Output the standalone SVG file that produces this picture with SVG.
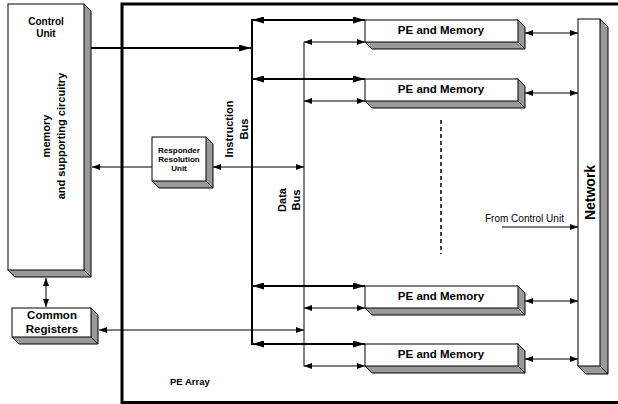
<svg xmlns="http://www.w3.org/2000/svg" width="618" height="404" viewBox="0 0 618 404">
<style>
text{font-family:"Liberation Sans",Arial,sans-serif;fill:#000}
.b{font-weight:bold}
.front{fill:#fff;stroke:#000;stroke-width:1}
.side{fill:#999;stroke:#000;stroke-width:1;stroke-linejoin:miter}
.edge{stroke:#000;stroke-width:1;fill:none}
.thin{stroke:#000;stroke-width:1;fill:none}
.thick{stroke:#000;stroke-width:2;fill:none}
.lbl{font-size:11.5px;font-weight:bold;text-anchor:middle}
</style>
<defs>
<marker id="a" viewBox="0 0 8 6" refX="8" refY="3" markerWidth="8" markerHeight="6" orient="auto-start-reverse" markerUnits="userSpaceOnUse"><path d="M0,0 L8,3 L0,6 z" fill="#000"/></marker>
<marker id="ab" viewBox="0 0 12 7" refX="12" refY="3.5" markerWidth="12" markerHeight="7" orient="auto-start-reverse" markerUnits="userSpaceOnUse"><path d="M0,0 L12,3.5 L0,7 z" fill="#000"/></marker>
</defs>
<rect width="618" height="404" fill="#fff"/>

<g id="pe-array">
<rect x="122" y="4" width="520" height="398.5" fill="none" stroke="#000" stroke-width="3"/>
<text x="170" y="385" class="b" font-size="9.5">PE Array</text>
</g>

<g id="control-unit">
<polygon class="side" points="84,4 91,11 91,277 15,277 8,270"/>
<rect class="front" x="8" y="4" width="76" height="266"/>
<line class="edge" x1="84" y1="270" x2="91" y2="277"/>
<text x="46" y="25" class="b" font-size="10" text-anchor="middle">Control</text>
<text x="46" y="37" class="b" font-size="10" text-anchor="middle">Unit</text>
<text transform="translate(50,136) rotate(-90)" class="b" font-size="11" text-anchor="middle">memory</text>
<text transform="translate(64.5,136) rotate(-90)" class="b" font-size="11" text-anchor="middle">and supporting circuitry</text>
</g>

<g id="common-registers">
<polygon class="side" points="91,308 98,315 98,344 19,344 12,337"/>
<rect class="front" x="12" y="308" width="79" height="29"/>
<line class="edge" x1="91" y1="337" x2="98" y2="344"/>
<text x="52" y="319" class="lbl">Common</text>
<text x="52" y="333" class="lbl">Registers</text>
</g>

<g id="responder-resolution-unit">
<polygon class="side" points="206,137 213,144 213,188 159,188 152,181"/>
<rect class="front" x="152" y="137" width="54" height="44"/>
<line class="edge" x1="206" y1="181" x2="213" y2="188"/>
<text x="179" y="153" class="b" font-size="8" text-anchor="middle">Responder</text>
<text x="179" y="162" class="b" font-size="8" text-anchor="middle">Resolution</text>
<text x="179" y="171" class="b" font-size="8" text-anchor="middle">Unit</text>
</g>

<g id="pe1">
<polygon class="side" points="518,20 525,27 525,49 372,49 365,42"/>
<rect class="front" x="365" y="20" width="153" height="22"/>
<line class="edge" x1="518" y1="42" x2="525" y2="49"/>
<text x="441" y="34" class="lbl">PE and Memory</text>
</g>
<g id="pe2">
<polygon class="side" points="518,79 525,86 525,108 372,108 365,101"/>
<rect class="front" x="365" y="79" width="153" height="22"/>
<line class="edge" x1="518" y1="101" x2="525" y2="108"/>
<text x="441" y="93" class="lbl">PE and Memory</text>
</g>
<g id="pe3">
<polygon class="side" points="518,286 525,293 525,315 372,315 365,308"/>
<rect class="front" x="365" y="286" width="153" height="22"/>
<line class="edge" x1="518" y1="308" x2="525" y2="315"/>
<text x="441" y="300" class="lbl">PE and Memory</text>
</g>
<g id="pe4">
<polygon class="side" points="518,344 525,351 525,373 372,373 365,366"/>
<rect class="front" x="365" y="344" width="153" height="22"/>
<line class="edge" x1="518" y1="366" x2="525" y2="373"/>
<text x="441" y="358" class="lbl">PE and Memory</text>
</g>

<g id="network">
<polygon class="side" points="600,19 608,27 608,374 586,374 578,366"/>
<rect class="front" x="578" y="19" width="22" height="347"/>
<line class="edge" x1="600" y1="366" x2="608" y2="374"/>
<text transform="translate(595,192.5) rotate(-90)" class="b" font-size="14" text-anchor="middle">Network</text>
</g>

<g id="bus-labels">
<text transform="translate(233,129) rotate(-90)" class="b" font-size="11" text-anchor="middle">Instruction</text>
<text transform="translate(248,129) rotate(-90)" class="b" font-size="11" text-anchor="middle">Bus</text>
<text transform="translate(286,200) rotate(-90)" class="b" font-size="11" text-anchor="middle">Data</text>
<text transform="translate(299.5,200) rotate(-90)" class="b" font-size="11" text-anchor="middle">Bus</text>
<text x="485" y="222" font-size="10">From Control Unit</text>
</g>

<g id="connectors">
<!-- buses -->
<line class="thick" x1="252" y1="19" x2="252" y2="345"/>
<line class="thin" x1="304" y1="42" x2="304" y2="366.5"/>
<!-- control unit to instruction bus -->
<line class="thick" x1="91" y1="48" x2="251" y2="48" marker-end="url(#ab)"/>
<!-- instruction bus to PEs -->
<line class="thick" x1="252" y1="20" x2="365" y2="20" marker-start="url(#ab)" marker-end="url(#ab)"/>
<line class="thick" x1="252" y1="79" x2="365" y2="79" marker-start="url(#ab)" marker-end="url(#ab)"/>
<line class="thick" x1="252" y1="286" x2="365" y2="286" marker-start="url(#ab)" marker-end="url(#ab)"/>
<line class="thick" x1="252" y1="344" x2="365" y2="344" marker-start="url(#ab)" marker-end="url(#ab)"/>
<!-- data bus to PEs -->
<line class="thin" x1="304" y1="42" x2="365" y2="42" marker-start="url(#a)" marker-end="url(#a)"/>
<line class="thin" x1="304" y1="101" x2="365" y2="101" marker-start="url(#a)" marker-end="url(#a)"/>
<line class="thin" x1="304" y1="308" x2="365" y2="308" marker-start="url(#a)" marker-end="url(#a)"/>
<line class="thin" x1="304" y1="366" x2="365" y2="366" marker-start="url(#a)" marker-end="url(#a)"/>
<!-- PEs to network -->
<line class="thin" x1="525" y1="33" x2="578" y2="33" marker-start="url(#a)" marker-end="url(#a)"/>
<line class="thin" x1="525" y1="93" x2="578" y2="93" marker-start="url(#a)" marker-end="url(#a)"/>
<line class="thin" x1="525" y1="301" x2="578" y2="301" marker-start="url(#a)" marker-end="url(#a)"/>
<line class="thin" x1="525" y1="359" x2="578" y2="359" marker-start="url(#a)" marker-end="url(#a)"/>
<!-- from control unit to network -->
<line class="thin" x1="502" y1="227" x2="578" y2="227" marker-end="url(#a)"/>
<!-- RRU -->
<line class="thin" x1="152" y1="167" x2="92" y2="167" marker-end="url(#a)"/>
<line class="thin" x1="213" y1="167" x2="304" y2="167" marker-start="url(#a)" marker-end="url(#a)"/>
<!-- common registers -->
<line class="thin" x1="99" y1="330" x2="304" y2="330" marker-start="url(#a)" marker-end="url(#a)"/>
<line class="thin" x1="46" y1="278" x2="46" y2="307" marker-start="url(#a)" marker-end="url(#a)"/>
<!-- dashed ellipsis -->
<line stroke="#000" stroke-width="1.5" stroke-dasharray="4,3" x1="441" y1="120" x2="441" y2="254"/>
</g>
</svg>
